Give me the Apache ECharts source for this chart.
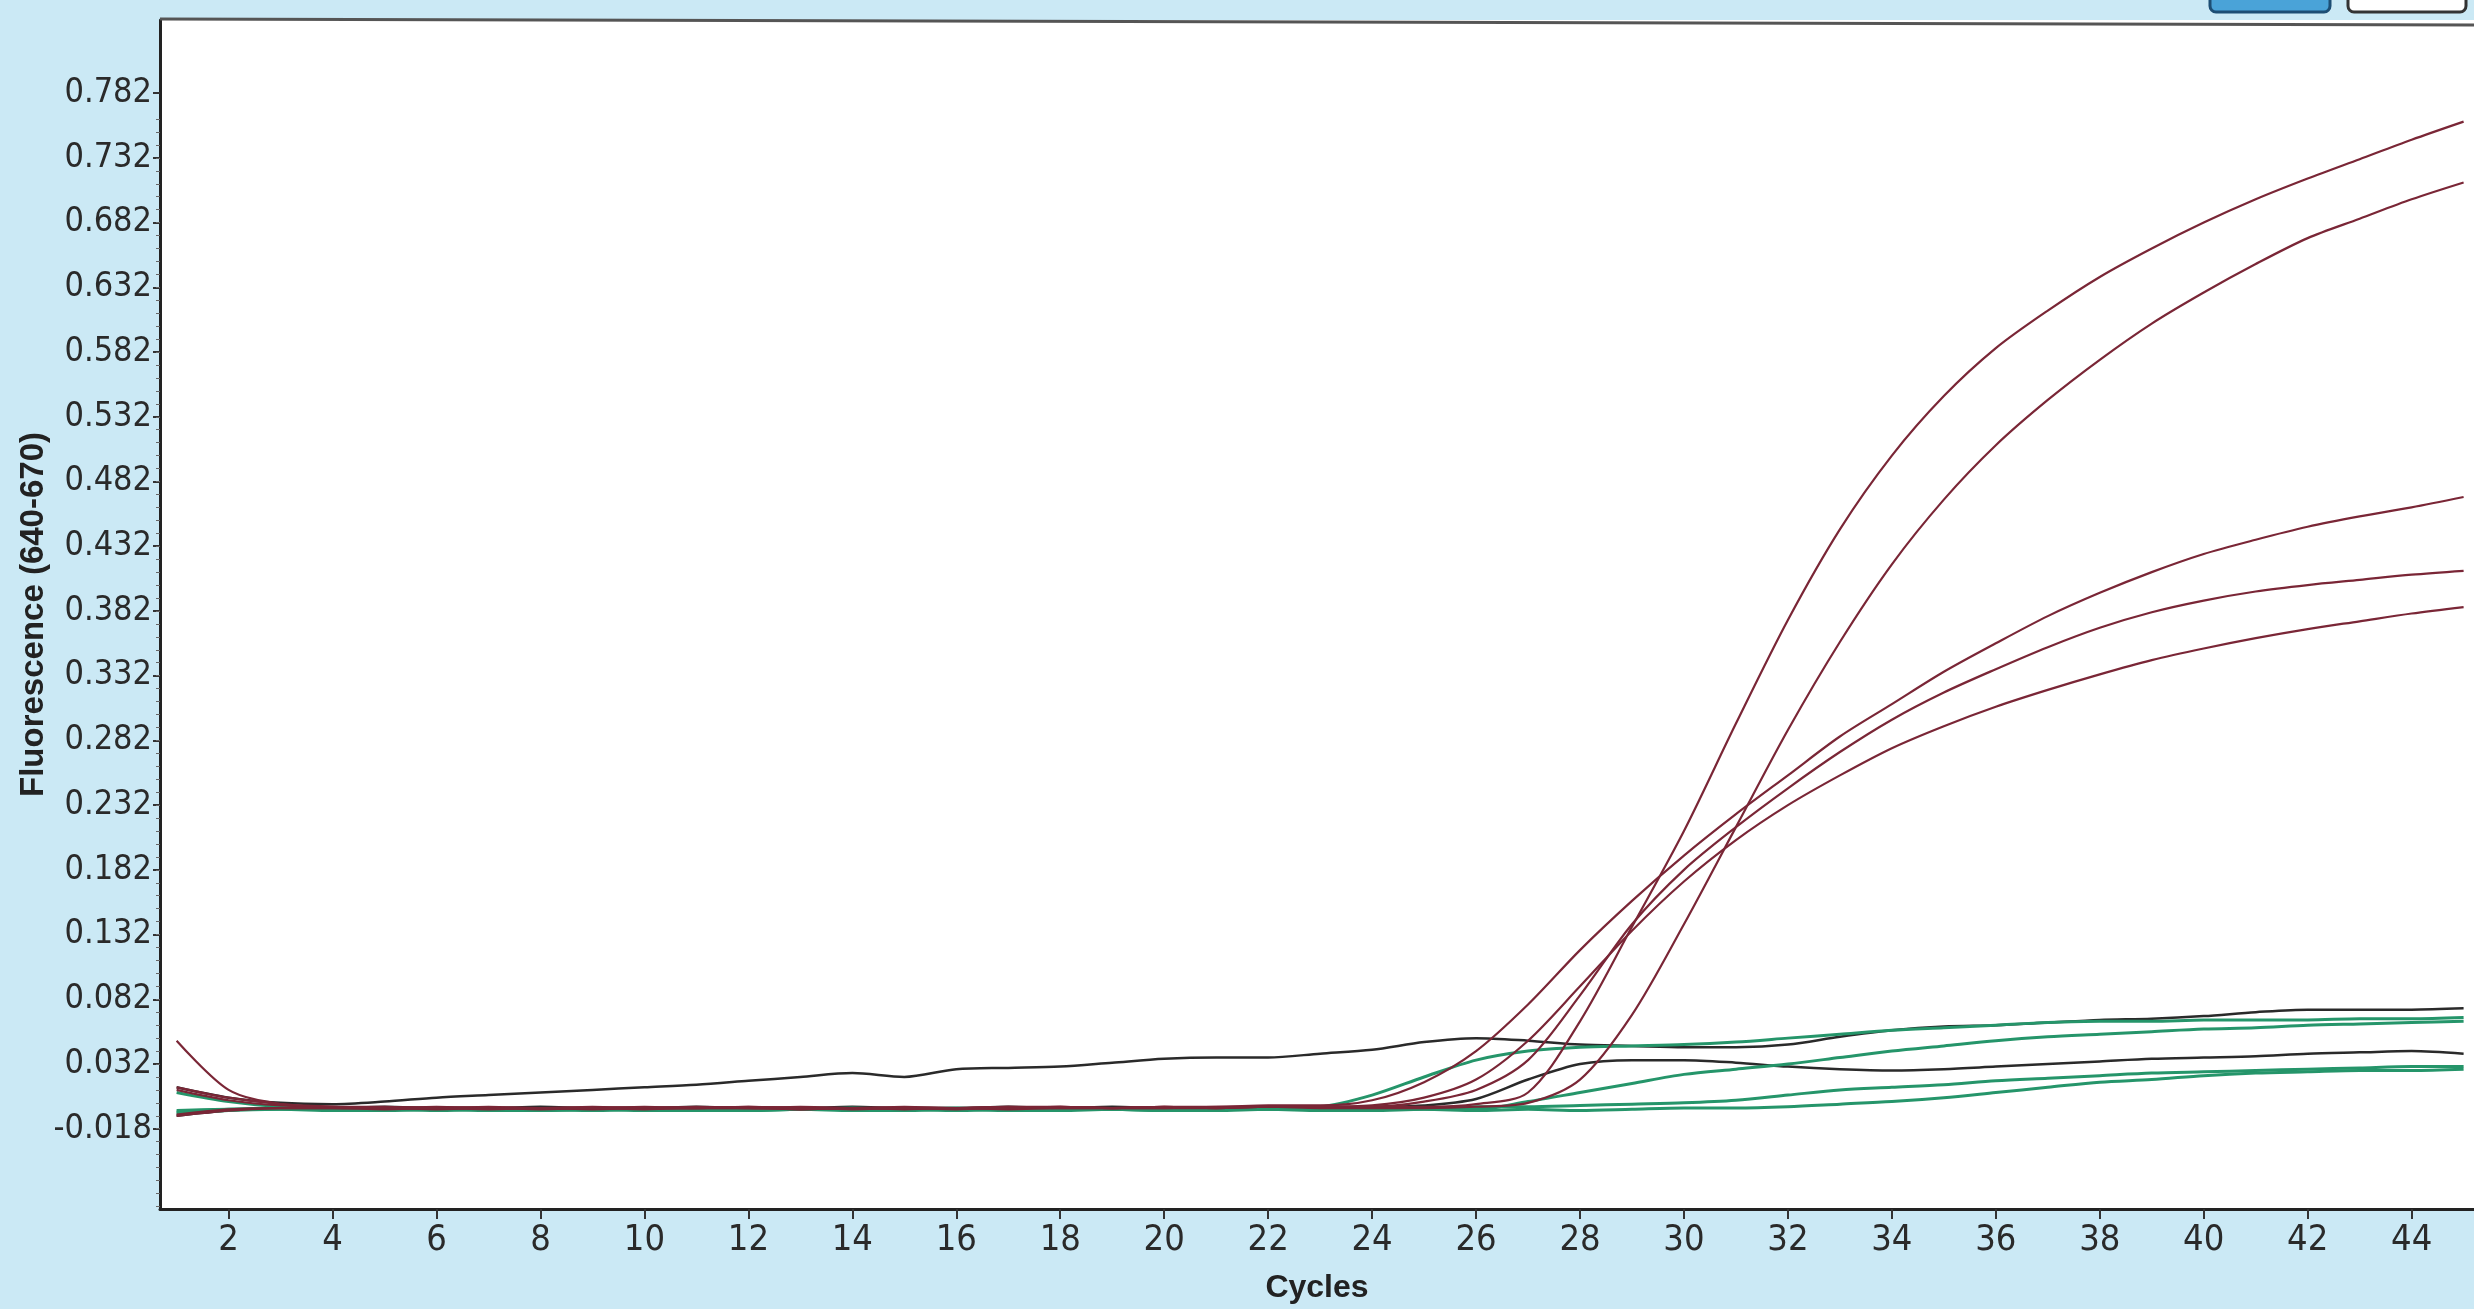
<!DOCTYPE html>
<html>
<head>
<meta charset="utf-8">
<script src="https://cdn.jsdelivr.net/npm/echarts@6/dist/echarts.min.js"></script>
<style>
html,body{margin:0;padding:0;background:#cbe9f5;}
#chart{width:2474px;height:1309px;}
</style>
</head>
<body>
<div id="chart"></div>
<script>
// ---- data ----
var cycles = [1,2,3,4,5,6,7,8,9,10,11,12,13,14,15,16,17,18,19,20,21,22,23,24,25,26,27,28,29,30,31,32,33,34,35,36,37,38,39,40,41,42,43,44,45];

var xTickLabels = [2,4,6,8,10,12,14,16,18,20,22,24,26,28,30,32,34,36,38,40,42,44];
var yTickLabels = [-0.018,0.032,0.082,0.132,0.182,0.232,0.282,0.332,0.382,0.432,0.482,0.532,0.582,0.632,0.682,0.732,0.782];

// amplifying samples (dark red)
var redA = [0.014,0.006,0.001,-0.001,-0.002,-0.002,-0.003,-0.002,-0.002,-0.003,-0.002,-0.001,-0.002,-0.003,-0.002,-0.002,-0.001,-0.002,-0.002,-0.001,-0.002,-0.001,-0.001,-0.001,-0.001,0.001,0.010,0.065,0.138,0.212,0.295,0.375,0.445,0.502,0.548,0.585,0.614,0.640,0.662,0.682,0.700,0.716,0.731,0.746,0.760];
var redB = [-0.008,-0.004,-0.002,-0.002,-0.003,-0.002,-0.002,-0.003,-0.002,-0.002,-0.001,-0.002,-0.003,-0.002,-0.002,-0.003,-0.002,-0.001,-0.002,-0.002,-0.002,-0.001,-0.002,-0.002,-0.002,-0.001,0.002,0.020,0.070,0.140,0.215,0.290,0.358,0.418,0.468,0.510,0.545,0.576,0.604,0.628,0.650,0.670,0.685,0.700,0.713];
var redC = [0.050,0.012,0.001,-0.001,-0.001,-0.002,-0.001,-0.002,-0.002,-0.001,-0.002,-0.002,-0.001,-0.002,-0.003,-0.002,-0.001,-0.001,-0.002,-0.001,-0.001,0.000,0.000,0.004,0.018,0.042,0.078,0.120,0.158,0.193,0.225,0.255,0.285,0.310,0.335,0.357,0.378,0.396,0.412,0.426,0.437,0.447,0.455,0.462,0.470];
var redD = [0.012,0.004,0.000,-0.001,-0.002,-0.001,-0.002,-0.002,-0.001,-0.002,-0.002,-0.001,-0.002,-0.002,-0.001,-0.002,-0.002,-0.001,-0.002,-0.001,-0.002,-0.001,-0.001,-0.001,0.003,0.012,0.035,0.085,0.140,0.182,0.215,0.245,0.273,0.298,0.319,0.337,0.354,0.369,0.381,0.390,0.397,0.402,0.406,0.410,0.413];
var redE = [-0.007,-0.003,-0.002,-0.002,-0.002,-0.003,-0.002,-0.002,-0.003,-0.002,-0.002,-0.002,-0.003,-0.002,-0.002,-0.002,-0.003,-0.002,-0.002,-0.002,-0.001,-0.001,-0.001,0.000,0.006,0.020,0.050,0.092,0.135,0.173,0.205,0.232,0.255,0.276,0.293,0.308,0.321,0.333,0.344,0.353,0.361,0.368,0.374,0.380,0.385];

// negative samples (green)
var greenA = [0.010,0.003,-0.001,-0.002,-0.003,-0.002,-0.003,-0.004,-0.003,-0.002,-0.003,-0.003,-0.002,-0.003,-0.003,-0.002,-0.003,-0.002,-0.003,-0.002,-0.003,-0.002,-0.001,0.008,0.022,0.035,0.042,0.045,0.046,0.047,0.049,0.052,0.055,0.058,0.060,0.062,0.064,0.065,0.065,0.066,0.066,0.066,0.067,0.067,0.068];
var greenB = [-0.005,-0.003,-0.002,-0.003,-0.003,-0.002,-0.003,-0.003,-0.003,-0.002,-0.003,-0.003,-0.003,-0.002,-0.003,-0.003,-0.002,-0.003,-0.003,-0.002,-0.003,-0.003,-0.002,-0.003,-0.003,-0.003,0.003,0.010,0.017,0.024,0.028,0.032,0.037,0.042,0.046,0.050,0.053,0.055,0.057,0.059,0.060,0.062,0.063,0.064,0.065];
var greenC = [-0.004,-0.003,-0.003,-0.002,-0.003,-0.004,-0.003,-0.003,-0.004,-0.003,-0.003,-0.004,-0.003,-0.003,-0.003,-0.004,-0.003,-0.003,-0.003,-0.004,-0.003,-0.003,-0.003,-0.002,-0.002,-0.001,-0.001,0.000,0.001,0.002,0.004,0.008,0.012,0.014,0.016,0.019,0.021,0.023,0.025,0.026,0.027,0.028,0.029,0.030,0.030];
var greenD = [-0.006,-0.004,-0.003,-0.004,-0.004,-0.003,-0.004,-0.004,-0.003,-0.004,-0.004,-0.004,-0.003,-0.004,-0.004,-0.003,-0.004,-0.004,-0.003,-0.004,-0.004,-0.003,-0.004,-0.004,-0.003,-0.004,-0.003,-0.004,-0.003,-0.002,-0.002,-0.001,0.001,0.003,0.006,0.010,0.014,0.018,0.020,0.023,0.025,0.026,0.027,0.027,0.028];

// dark traces
var darkA = [0.014,0.006,0.002,0.001,0.003,0.006,0.008,0.010,0.012,0.014,0.016,0.019,0.022,0.025,0.022,0.028,0.029,0.030,0.033,0.036,0.037,0.037,0.040,0.043,0.049,0.052,0.050,0.047,0.046,0.045,0.045,0.047,0.053,0.058,0.061,0.062,0.064,0.066,0.067,0.069,0.072,0.074,0.074,0.074,0.075];
var darkB = [-0.008,-0.004,-0.002,-0.002,-0.001,-0.002,-0.002,-0.001,-0.002,-0.002,-0.001,-0.002,-0.002,-0.001,-0.002,-0.002,-0.001,-0.002,-0.001,-0.002,-0.002,-0.001,-0.002,-0.001,0.000,0.005,0.020,0.032,0.035,0.035,0.033,0.030,0.028,0.027,0.028,0.030,0.032,0.034,0.036,0.037,0.038,0.040,0.041,0.042,0.040];

// ---- build ----
function pairs(arr){ return cycles.map(function(c,i){ return [c, arr[i]]; }); }
var yMinor = [];
for (var k = -7; k <= 84; k++) { yMinor.push(-0.078 + k*0.01); }

var RED = '#7a2636', GREEN = '#25956a', DARK = '#2a2a2a';
function line(name, arr, color, width){
  return { name:name, type:'line', data:pairs(arr), showSymbol:false, symbol:'none', smooth:0.3,
           lineStyle:{color:color, width:width}, itemStyle:{color:color}, z:2, silent:true, animation:false };
}

var labelFont = "'Liberation Sans Narrow','DejaVu Sans Condensed','Liberation Sans',sans-serif";

var chart = echarts.init(document.getElementById('chart'), null, {renderer:'canvas'});
chart.setOption({
  backgroundColor:'#cbe9f5',
  animation:false,
  grid:{left:160, right:0, top:20, bottom:97, show:true, backgroundColor:'#ffffff', borderWidth:0},
  xAxis:{
    type:'value', min:0.68, max:45.2,
    name:'Cycles', nameLocation:'middle', nameGap:63, nameMoveOverlap:false,
    nameTextStyle:{fontFamily:'Liberation Sans', fontWeight:'bold', fontSize:32, color:'#222'},
    axisLine:{show:true, onZero:false, lineStyle:{color:'#222', width:3}},
    axisTick:{show:true, customValues:xTickLabels, length:10, lineStyle:{color:'#333', width:2}},
    axisLabel:{customValues:xTickLabels, fontFamily:labelFont, fontSize:36, color:'#2a2a2a', margin:14},
    splitLine:{show:false}
  },
  yAxis:[{
    type:'value', min:-0.08, max:0.8385,
    name:'Fluorescence (640-670)', nameLocation:'middle', nameGap:110, nameRotate:90, nameMoveOverlap:false,
    nameTextStyle:{fontFamily:'Liberation Sans', fontWeight:'bold', fontSize:33, color:'#222'},
    axisLine:{show:true, onZero:false, lineStyle:{color:'#222', width:3}},
    axisTick:{show:true, customValues:yTickLabels, length:7, lineStyle:{color:'#333', width:2}},
    axisLabel:{customValues:yTickLabels, fontFamily:labelFont, fontSize:34, color:'#2a2a2a', margin:8,
               formatter:function(v){ return v.toFixed(3); }},
    splitLine:{show:false}
  },{
    type:'value', min:-0.08, max:0.8385, position:'left',
    axisLine:{show:false},
    axisTick:{show:true, customValues:yMinor, length:4, lineStyle:{color:'#666', width:1}},
    axisLabel:{show:false}, splitLine:{show:false}
  }],
  graphic:[
    {type:'line', shape:{x1:160, y1:19, x2:2474, y2:25}, style:{stroke:'#555', lineWidth:3}, z:10},
    {type:'rect', shape:{x:2210, y:-10, width:120, height:22, r:6}, style:{fill:'#4aa3d8', stroke:'#1d4e74', lineWidth:3}, z:10},
    {type:'rect', shape:{x:2348, y:-10, width:118, height:22, r:6}, style:{fill:'#ffffff', stroke:'#333', lineWidth:3}, z:10}
  ],
  series:[
    line('darkA', darkA, DARK, 2.5),
    line('darkB', darkB, DARK, 2.5),
    line('greenA', greenA, GREEN, 3),
    line('greenB', greenB, GREEN, 3),
    line('greenC', greenC, GREEN, 3),
    line('greenD', greenD, GREEN, 3),
    line('redE', redE, RED, 2.2),
    line('redD', redD, RED, 2.2),
    line('redC', redC, RED, 2.2),
    line('redB', redB, RED, 2.2),
    line('redA', redA, RED, 2.2)
  ]
});
</script>
</body>
</html>
